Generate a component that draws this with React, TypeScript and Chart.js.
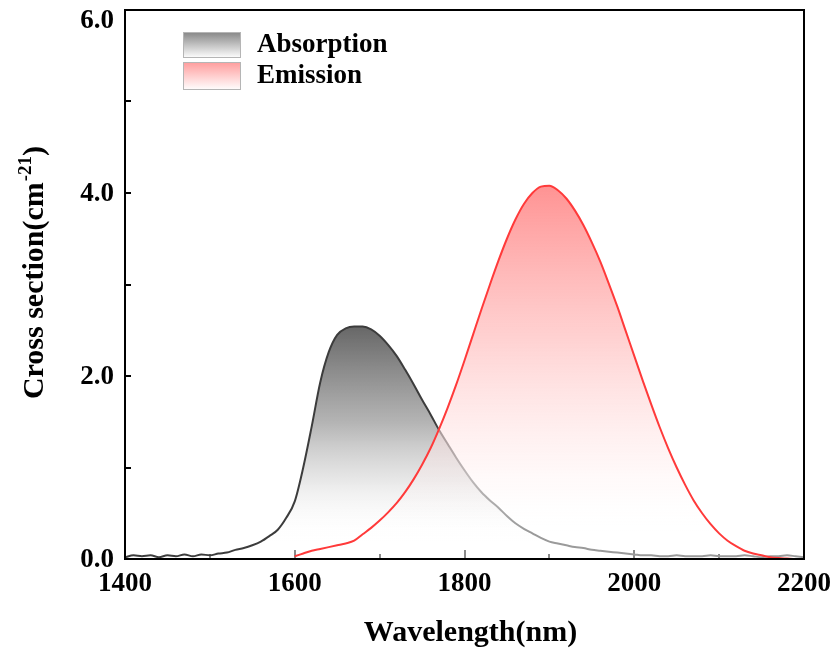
import React, { useEffect, useRef } from "react";
import { Chart, registerables } from "chart.js";

Chart.register(...registerables);

const ABS_WAVELENGTHS = [
  1400, 1410, 1420, 1430, 1440, 1450, 1460, 1470, 1480, 1490,
  1500, 1510, 1520, 1530, 1540, 1550, 1560, 1570, 1580, 1590,
  1600, 1610, 1620, 1630, 1640, 1650, 1660, 1670, 1680, 1690,
  1700, 1710, 1720, 1730, 1740, 1750, 1760, 1770, 1780, 1790,
  1800, 1810, 1820, 1830, 1840, 1850, 1860, 1870, 1880, 1890,
  1900, 1910, 1920, 1930, 1940, 1950, 1960, 1970, 1980, 1990,
  2000, 2010, 2020, 2030, 2040, 2050, 2060, 2070, 2080, 2090,
  2100, 2110, 2120, 2130, 2140, 2150, 2160, 2170, 2180, 2190,
  2200,
];
const ABS_VALUES = [
  0.02, 0.04, 0.03, 0.04, 0.02, 0.04, 0.03, 0.05, 0.03, 0.05,
  0.04, 0.06, 0.07, 0.10, 0.12, 0.15, 0.19, 0.25, 0.32, 0.45,
  0.63, 1.00, 1.45, 1.93, 2.26, 2.45, 2.52, 2.54, 2.54, 2.51,
  2.44, 2.34, 2.22, 2.07, 1.91, 1.74, 1.58, 1.41, 1.26, 1.11,
  0.97, 0.84, 0.73, 0.64, 0.56, 0.47, 0.39, 0.33, 0.28, 0.23,
  0.19, 0.17, 0.15, 0.13, 0.12, 0.10, 0.09, 0.08, 0.07, 0.06,
  0.05, 0.04, 0.04, 0.03, 0.03, 0.04, 0.03, 0.03, 0.03, 0.04,
  0.03, 0.03, 0.03, 0.04, 0.03, 0.02, 0.03, 0.03, 0.04, 0.03,
  0.02,
];
const EMI_WAVELENGTHS = [
  1600, 1610, 1620, 1630, 1640, 1650, 1660, 1670, 1680, 1690,
  1700, 1710, 1720, 1730, 1740, 1750, 1760, 1770, 1780, 1790,
  1800, 1810, 1820, 1830, 1840, 1850, 1860, 1870, 1880, 1890,
  1900, 1910, 1920, 1930, 1940, 1950, 1960, 1970, 1980, 1990,
  2000, 2010, 2020, 2030, 2040, 2050, 2060, 2070, 2080, 2090,
  2100, 2110, 2120, 2130, 2140, 2150, 2160, 2170, 2180, 2190,
  2200,
];
const EMI_VALUES = [
  0.03, 0.06, 0.09, 0.11, 0.13, 0.15, 0.17, 0.20, 0.27, 0.34,
  0.42, 0.51, 0.61, 0.73, 0.87, 1.03, 1.21, 1.42, 1.65, 1.90,
  2.17, 2.45, 2.73, 3.00, 3.26, 3.50, 3.71, 3.88, 4.00, 4.07,
  4.08, 4.03, 3.94, 3.81, 3.65, 3.46, 3.25, 3.01, 2.76, 2.49,
  2.22, 1.95, 1.69, 1.44, 1.21, 1.00, 0.81, 0.64, 0.50, 0.38,
  0.28, 0.20, 0.14, 0.09, 0.06, 0.04, 0.02, 0.01, 0.005, 0, 0,
];

const SERIES_LABELS = ["Absorption", "Emission"];
const X_TICKS = [1400, 1600, 1800, 2000, 2200];
const X_TICK_LABELS = ["1400", "1600", "1800", "2000", "2200"];
const X_MINOR = [1500, 1700, 1900, 2100];
const Y_TICKS = [0, 2, 4, 6];
const Y_TICK_LABELS = ["0.0", "2.0", "4.0", "6.0"];
const Y_MINOR = [1, 3, 5];
const X_TITLE = "Wavelength(nm)";
const Y_TITLE_MAIN = "Cross section(cm";
const Y_TITLE_SUP = "-21";
const Y_TITLE_END = ")";

const FONT = "'Liberation Serif', 'Times New Roman', serif";

const overlayPlugin = {
  id: "overlay",
  beforeDatasetsDraw(chart: any) {
    const { ctx, chartArea: a, scales } = chart;
    ctx.save();
    ctx.strokeStyle = "#8a8a8a";
    ctx.lineWidth = 2;
    X_TICKS.forEach((v) => {
      const px = Math.round(scales.x.getPixelForValue(v));
      ctx.beginPath();
      ctx.moveTo(px, a.bottom);
      ctx.lineTo(px, a.bottom - 9);
      ctx.stroke();
    });
    X_MINOR.forEach((v) => {
      const px = Math.round(scales.x.getPixelForValue(v));
      ctx.beginPath();
      ctx.moveTo(px, a.bottom);
      ctx.lineTo(px, a.bottom - 5);
      ctx.stroke();
    });
    ctx.restore();
  },
  afterDatasetsDraw(chart: any) {
    const { ctx, chartArea: a, scales } = chart;
    ctx.save();
    ctx.strokeStyle = "#000";
    ctx.lineWidth = 2;
    [...Y_TICKS, ...Y_MINOR].forEach((v) => {
      const py = Math.round(scales.y.getPixelForValue(v));
      ctx.beginPath();
      ctx.moveTo(a.left, py);
      ctx.lineTo(a.left + 6, py);
      ctx.stroke();
    });
    ctx.strokeStyle = "#000";
    ctx.lineWidth = 2;
    ctx.strokeRect(a.left, a.top, a.right - a.left, a.bottom - a.top);

    ctx.fillStyle = "#000";
    ctx.font = `bold 27px ${FONT}`;
    ctx.textAlign = "center";
    ctx.textBaseline = "alphabetic";
    X_TICKS.forEach((v, i) => {
      const px = scales.x.getPixelForValue(v);
      ctx.fillText(X_TICK_LABELS[i], px, a.bottom + 32);
    });
    ctx.textAlign = "right";
    Y_TICKS.forEach((v, i) => {
      const py = scales.y.getPixelForValue(v);
      ctx.fillText(Y_TICK_LABELS[i], a.left - 11, Math.max(py + 8, a.top + 18));
    });

    ctx.font = `bold 30px ${FONT}`;
    ctx.textAlign = "center";
    ctx.fillText(X_TITLE, (a.left + a.right) / 2 + 6, a.bottom + 82);

    ctx.save();
    ctx.translate(43, (a.top + a.bottom) / 2 - 12);
    ctx.rotate(-Math.PI / 2);
    ctx.textAlign = "left";
    const mainFont = `bold 30px ${FONT}`;
    const supFont = `bold 19px ${FONT}`;
    ctx.font = mainFont;
    const w1 = ctx.measureText(Y_TITLE_MAIN).width;
    const w3 = ctx.measureText(Y_TITLE_END).width;
    ctx.font = supFont;
    const w2 = ctx.measureText(Y_TITLE_SUP).width;
    const total = w1 + w2 + w3 + 1;
    let x0 = -total / 2;
    ctx.font = mainFont;
    ctx.fillText(Y_TITLE_MAIN, x0, 0);
    x0 += w1;
    ctx.font = supFont;
    ctx.fillText(Y_TITLE_SUP, x0 + 1, -12);
    x0 += w2 + 1;
    ctx.font = mainFont;
    ctx.fillText(Y_TITLE_END, x0, 0);
    ctx.restore();

    const boxes = [
      { y: 32, h: 26, top: "#868686", label: SERIES_LABELS[0], base: 52 },
      { y: 62, h: 28, top: "#ff9c9c", label: SERIES_LABELS[1], base: 83 },
    ];
    boxes.forEach((b) => {
      const g = ctx.createLinearGradient(0, b.y, 0, b.y + b.h);
      g.addColorStop(0, b.top);
      g.addColorStop(1, "#ffffff");
      ctx.fillStyle = g;
      ctx.fillRect(183, b.y, 58, b.h);
      ctx.strokeStyle = "#b5b5b5";
      ctx.lineWidth = 1;
      ctx.strokeRect(183.5, b.y + 0.5, 57, b.h - 1);
      ctx.fillStyle = "#000";
      ctx.font = `bold 27px ${FONT}`;
      ctx.textAlign = "left";
      ctx.fillText(b.label, 257, b.base);
    });
    ctx.restore();
  },
};

export default function App() {
  const canvasRef = useRef<HTMLCanvasElement | null>(null);

  useEffect(() => {
    const canvas = canvasRef.current;
    if (!canvas) return;

    const absData = ABS_WAVELENGTHS.map((x, i) => ({ x, y: ABS_VALUES[i] }));
    const emiData = EMI_WAVELENGTHS.map((x, i) => ({ x, y: EMI_VALUES[i] }));

    const chart = new Chart(canvas, {
      type: "line",
      data: {
        datasets: [
          {
            label: SERIES_LABELS[0],
            data: absData,
            borderWidth: 2,
            pointRadius: 0,
            cubicInterpolationMode: "monotone",
            fill: "origin",
            order: 2,
            borderColor: (c: any) => {
              const ch = c.chart;
              if (!ch.chartArea) return "#3c3c3c";
              const x1 = ch.scales.x.getPixelForValue(1765);
              const x2 = ch.scales.x.getPixelForValue(1805);
              const g = ch.ctx.createLinearGradient(x1, 0, x2, 0);
              g.addColorStop(0, "#3c3c3c");
              g.addColorStop(1, "#9a9a9a");
              return g;
            },
            backgroundColor: (c: any) => {
              const ch = c.chart;
              if (!ch.chartArea) return "rgba(128,128,128,0.5)";
              const y1 = ch.scales.y.getPixelForValue(2.55);
              const y2 = ch.scales.y.getPixelForValue(0.2);
              const g = ch.ctx.createLinearGradient(0, y1, 0, y2);
              g.addColorStop(0, "rgba(102,102,102,1)");
              g.addColorStop(0.45, "rgba(172,172,172,0.9)");
              g.addColorStop(0.8, "rgba(235,235,235,0.6)");
              g.addColorStop(1, "rgba(255,255,255,0)");
              return g;
            },
          },
          {
            label: SERIES_LABELS[1],
            data: emiData,
            borderColor: "#ff3a3a",
            borderWidth: 2,
            pointRadius: 0,
            cubicInterpolationMode: "monotone",
            fill: "origin",
            order: 1,
            backgroundColor: (c: any) => {
              const ch = c.chart;
              if (!ch.chartArea) return "rgba(255,150,150,0.5)";
              const y1 = ch.scales.y.getPixelForValue(4.1);
              const y2 = ch.scales.y.getPixelForValue(0.3);
              const g = ch.ctx.createLinearGradient(0, y1, 0, y2);
              g.addColorStop(0, "rgba(255,140,140,0.95)");
              g.addColorStop(0.45, "rgba(255,195,195,0.75)");
              g.addColorStop(0.8, "rgba(255,235,235,0.45)");
              g.addColorStop(1, "rgba(255,255,255,0)");
              return g;
            },
          },
        ],
      },
      options: {
        responsive: false,
        animation: false,
        devicePixelRatio: 1,
        layout: { padding: { top: 10, right: 32, left: 0, bottom: 0 } },
        plugins: {
          legend: { display: false },
          tooltip: { enabled: false },
        },
        scales: {
          x: {
            type: "linear",
            min: 1400,
            max: 2200,
            ticks: { display: false },
            grid: { display: false },
            border: { display: false },
            afterFit: (s: any) => {
              s.height = 91;
            },
          },
          y: {
            type: "linear",
            min: 0,
            max: 6,
            ticks: { display: false },
            grid: { display: false },
            border: { display: false },
            afterFit: (s: any) => {
              s.width = 125;
            },
          },
        },
      },
      plugins: [overlayPlugin],
    } as any);

    return () => chart.destroy();
  }, []);

  return (
    <div style={{ position: "fixed", left: 0, top: 0, width: 836, height: 650, background: "#fff" }}>
      <canvas ref={canvasRef} width={836} height={650} />
    </div>
  );
}
